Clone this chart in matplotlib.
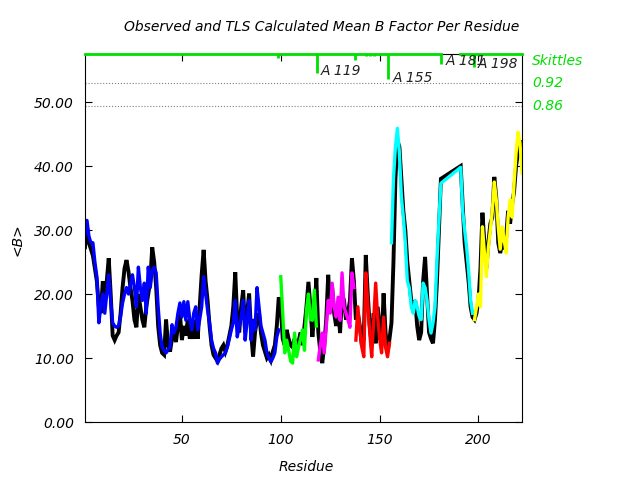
import numpy as np
import matplotlib
matplotlib.use("Agg")
import matplotlib.pyplot as plt
import matplotlib.transforms as mtransforms

# residues present in the model (182-190 missing)
residue = list(range(1, 182)) + list(range(191, 223))

# observed mean B per residue (black line)
observed = [
    27.3, 30.5, 28, 27, 26, 24, 22, 18, 17, 22,
    19, 22, 25.6, 20, 13.5, 12.8, 13.5, 14, 17, 21,
    24, 25.3, 23.5, 21, 19, 16, 14.8, 20, 18, 16,
    14.8, 18, 20, 22, 27.3, 25, 21, 15, 12, 10.8,
    10.5, 16, 12, 11, 13, 14, 12.5, 15, 17, 12.8,
    15, 13.5, 16, 13, 15, 13, 16, 13, 18, 23,
    26.9, 22, 19, 15, 12, 10.5, 10, 9.5, 10.5, 11.5,
    12, 11, 12, 13.5, 15, 18, 23.4, 16, 14, 18,
    20.6, 14, 17, 20.1, 14, 10.2, 14, 16, 17, 13.9,
    12, 11, 10, 10.5, 9.7, 11, 12, 15, 19.5, 18,
    13, 12, 14.4, 13, 12, 11.7, 13, 11, 12.5, 14,
    12, 15, 18, 21.9, 18, 13.3, 17, 22.5, 14, 11,
    9.2, 12, 16, 23, 18, 21, 17, 15, 18, 13.9,
    20, 19, 16, 17, 19, 25.6, 22, 16, 17, 15,
    12, 13, 26.1, 20, 15, 12, 17, 12.3, 18, 15,
    12, 20.1, 14, 11, 13, 15.5, 25, 38, 44, 43,
    38, 33, 30, 25, 22, 19, 18, 19, 15, 12.8,
    14, 22, 25.8, 20, 14, 13, 12.3, 16, 22, 30, 38,
    40, 34, 28, 25, 22, 18, 16.4, 16, 17, 19,
    24, 32.7, 28, 24, 28, 31, 32, 38.3, 35, 28,
    26.4, 28, 27, 29, 33, 31, 34, 36, 40, 42, 44, 41.7,
]

# TLS calculated mean B per residue (coloured by TLS group)
calculated = [
    29.2, 31.5, 29, 28, 28, 25, 22.7, 15.5, 18, 20,
    17, 20, 23, 19, 15.5, 15, 14.8, 15, 16.5, 18.6,
    20, 21, 20, 21.5, 23, 21, 18, 24.2, 21, 19,
    21.7, 17, 24.2, 21, 23.7, 24.2, 23.3, 18, 13.9, 11.7,
    11.2, 10.8, 11.3, 11.7, 15.2, 13.9, 14.8, 17, 18.6, 16.4,
    18.8, 15.9, 18.8, 16, 14.4, 17, 18, 14.4, 16, 18,
    22.7, 20, 17.5, 15.5, 12.8, 11.5, 10.8, 9.2, 9.8, 10.2,
    10.5, 10.8, 11.7, 13, 14.4, 15.5, 19, 13.3, 15, 16.4,
    19, 12.8, 15.9, 19, 12.8, 15.9, 14.4, 21, 18, 15,
    13.9, 12.8, 10.8, 10, 9.4, 10, 10.8, 13.3, 14.4, 22.7,
    17, 10.8, 12.8, 11.2, 9.5, 9.2, 13.9, 10.2, 11.7, 13,
    14.4, 11.2, 17.5, 20, 16, 15.9, 20.6, 15, 9.7, 12,
    13.9, 10.8, 14.8, 19, 17, 21.7, 18, 16.4, 19.5, 15.9,
    23.3, 18, 17, 16, 14.8, 23.3, 21, 12.8, 18, 14.4,
    11.7, 10.2, 23.3, 18.6, 14, 10.2, 15.9, 21.7, 16.4, 13,
    10.8, 16.4, 11.7, 10.2, 12.3, 28, 38, 43, 45.9, 42,
    35.2, 32, 28, 22, 21, 18, 17, 19, 18, 16.5,
    16, 21.7, 21, 19, 16, 13.9, 15.5, 18, 25.3, 31.5, 37.3,
    39.8, 33, 30, 27.3, 23.7, 19, 17, 16, 18, 20,
    18, 30.5, 26.4, 22.7, 27.3, 30, 33, 37.5, 34.7, 30.5,
    27, 30.5, 28.4, 26.4, 32, 34.7, 32, 37.3, 42, 45.3, 43.6, 38.9,
]

# TLS groups: first and last residue, colour
group_start = [1, 100, 119, 138, 156, 198]
group_end = [99, 118, 137, 155, 197, 222]
group_color = ['#0000ff', '#00ff00', '#ff00ff', '#ff0000', '#00ffff', '#ffff00']

# skittles track along the top
skit_res = [98.5, 118.2, 137.4, 143, 145, 147, 154, 180.8, 197.5]
skit_low = [56.9, 54.5, 56.6, 57.2, 57.2, 57.2, 53.6, 55.9, 55.5]
skit_labels = ['A 119', 'A 155', 'A 181', 'A 198']
skit_label_x = [120, 156.5, 183.3, 199.5]
skit_label_y = [54.8, 53.7, 56.4, 56.0]
skit_levels = [52.9, 49.3]
skit_level_text = ['0.92', '0.86']

xmin, xmax = 1, 222
ymin, ymax = 0, 57.5
green = '#00e000'

res = np.array(residue)
obs = np.array(observed)
calc = np.array(calculated)

fig = plt.figure(figsize=(6.4, 4.8), dpi=100)
ax = fig.add_axes([0.1328, 0.1208, 0.6828, 0.7667])

ax.plot(res, obs, color='black', lw=2.8, solid_joinstyle='miter')
for s, e, c in zip(group_start, group_end, group_color):
    m = (res >= s) & (res <= e)
    ax.plot(res[m], calc[m], color=c, lw=2.4)

# skittles
for lv in skit_levels:
    ax.axhline(lv, color='grey', ls=':', lw=0.8)
ax.plot([xmin, 180.8], [ymax, ymax], color=green, lw=2, clip_on=False, zorder=3)
ax.plot([190.4, xmax], [ymax, ymax], color=green, lw=2, clip_on=False, zorder=3)
ax.vlines(skit_res, skit_low, ymax, color=green, lw=2, zorder=3)
for t, x, y in zip(skit_labels, skit_label_x, skit_label_y):
    ax.text(x, y, t, fontsize=10, style='italic', color='#222222', va='center', ha='left')

trans = mtransforms.blended_transform_factory(ax.transAxes, ax.transData)
ax.text(1.023, 56.4, 'Skittles', transform=trans, color=green, fontsize=10,
        style='italic', va='center')
for lv, t in zip(skit_levels, skit_level_text):
    ax.text(1.023, lv, t, transform=trans, color=green, fontsize=10,
            style='italic', va='center')

ax.set_xlim(xmin, xmax)
ax.set_ylim(ymin, ymax)
ax.set_xticks([50, 100, 150, 200])
ax.set_yticks([0, 10, 20, 30, 40, 50])
ax.set_yticklabels(['%.2f' % v for v in [0, 10, 20, 30, 40, 50]])
ax.tick_params(direction='in', length=5, top=True, right=True, labelsize=10, pad=8)
for lab in ax.get_xticklabels() + ax.get_yticklabels():
    lab.set_style('italic')

fig.text(0.503, 0.944, 'Observed and TLS Calculated Mean B Factor Per Residue',
         ha='center', va='center', fontsize=10, style='italic')
fig.text(0.478, 0.027, 'Residue', ha='center', va='center', fontsize=10, style='italic')
fig.text(0.028, 0.5, '<B>', ha='center', va='center', rotation=90, fontsize=10, style='italic')

fig.savefig('out.png', dpi=100)
